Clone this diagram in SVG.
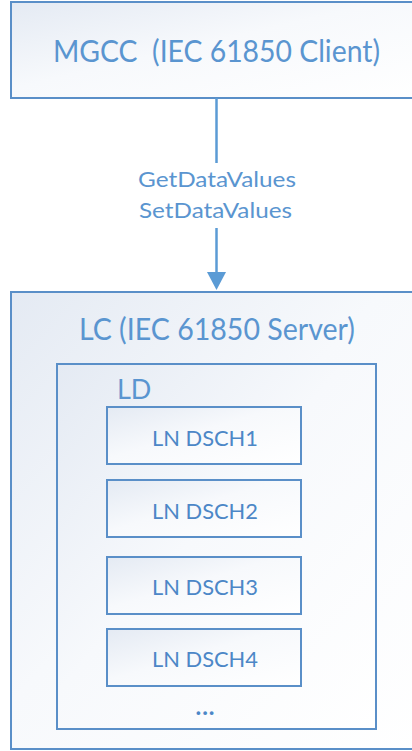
<svg xmlns="http://www.w3.org/2000/svg" width="412" height="751" viewBox="0 0 412 751">
  <defs>
    <linearGradient id="boxFill" x1="0" y1="0" x2="1" y2="1">
      <stop offset="0" stop-color="#e4eaf3"/>
      <stop offset="0.45" stop-color="#f7f9fc"/>
      <stop offset="1" stop-color="#ffffff"/>
    </linearGradient>
    <style>
      .box { fill: url(#boxFill); stroke: #5a8fc8; stroke-width: 2; }
      .lbl { font-family: Lato, "Open Sans", "Liberation Sans", sans-serif; fill: #5a95d0; text-anchor: middle; white-space: pre; }
      .big { font-size: 31px; }
      .mid { font-size: 27px; }
      .small { font-size: 21.5px; }
      .ln { font-size: 21px; fill: #4c87c7; }
      .dots { font-size: 24px; fill: #4c87c7; font-weight: bold; }
      .wire { stroke: #5b9bd5; stroke-width: 2.5; fill: none; }
    </style>
  </defs>

  <rect width="412" height="751" fill="#ffffff"/>

  <!-- client -->
  <g id="mgcc">
    <rect class="box" x="11" y="2" width="412" height="96"/>
    <text class="lbl big" x="216.5" y="62" textLength="327" lengthAdjust="spacingAndGlyphs">MGCC  (IEC 61850 Client)</text>
  </g>

  <!-- server -->
  <g id="lc">
    <rect class="box" x="11" y="292" width="412" height="457"/>
    <text class="lbl big" x="217" y="340" textLength="276" lengthAdjust="spacingAndGlyphs">LC (IEC 61850 Server)</text>
  </g>

  <g id="ld">
    <rect class="box" x="57" y="364" width="319" height="365"/>
    <text class="lbl mid" x="117" y="399" style="text-anchor:start">LD</text>
    <text class="lbl dots" x="205" y="715" textLength="19" lengthAdjust="spacing">...</text>
  </g>

  <g id="ln1">
    <rect class="box" x="107" y="407" width="194" height="57"/>
    <text class="lbl ln" x="205" y="446" textLength="106" lengthAdjust="spacingAndGlyphs">LN DSCH1</text>
  </g>
  <g id="ln2">
    <rect class="box" x="107" y="480" width="194" height="57"/>
    <text class="lbl ln" x="205" y="519" textLength="106" lengthAdjust="spacingAndGlyphs">LN DSCH2</text>
  </g>
  <g id="ln3">
    <rect class="box" x="107" y="557" width="194" height="57"/>
    <text class="lbl ln" x="205" y="595" textLength="106" lengthAdjust="spacingAndGlyphs">LN DSCH3</text>
  </g>
  <g id="ln4">
    <rect class="box" x="107" y="629" width="194" height="57"/>
    <text class="lbl ln" x="205" y="667" textLength="106" lengthAdjust="spacingAndGlyphs">LN DSCH4</text>
  </g>

  <!-- request link from client to server -->
  <g id="connectors">
    <line class="wire" x1="216.5" y1="98" x2="216.5" y2="163"/>
    <line class="wire" x1="216.5" y1="228" x2="216.5" y2="273"/>
    <polygon points="207,272 226,272 216.5,290" fill="#5b9bd5"/>
    <text class="lbl small" x="217" y="187" textLength="158" lengthAdjust="spacingAndGlyphs">GetDataValues</text>
    <text class="lbl small" x="215.5" y="218" textLength="153" lengthAdjust="spacingAndGlyphs">SetDataValues</text>
  </g>
</svg>
